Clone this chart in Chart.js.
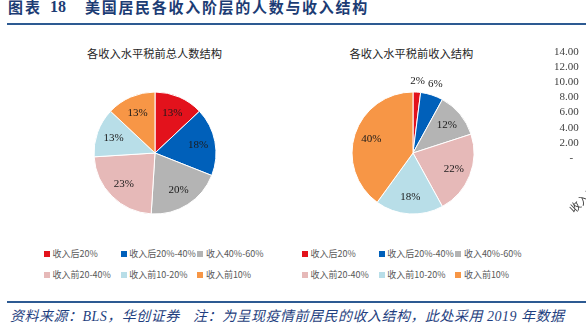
<!DOCTYPE html>
<html><head><meta charset="utf-8">
<script src="https://cdn.jsdelivr.net/npm/chart.js@4.4.1/dist/chart.umd.min.js"></script>
<style>
html,body{margin:0;padding:0;background:#fff;}
body{width:586px;height:326px;overflow:hidden;position:relative;font-family:"Noto Sans CJK SC",sans-serif;}
.abs{position:absolute;white-space:nowrap;}
.ttl{color:#1c3c74;font-weight:bold;font-size:15px;line-height:15px;top:-1px;}
.sub{font-size:11.25px;line-height:12px;color:#262626;transform:translateX(-50%);}
.rule{position:absolute;left:7px;right:0;height:2px;background:#2d5a92;}
.foot{font-family:"Liberation Serif","Noto Sans CJK SC",serif;font-style:italic;font-size:14px;line-height:14px;color:#1f3f80;top:310px;letter-spacing:0.5px;}
.legend{position:absolute;display:grid;grid-template-columns:76.7px 76.7px 76.7px;row-gap:11px;}
.li{display:flex;align-items:center;height:10px;font-size:9px;line-height:10px;color:#595959;white-space:nowrap;}
.sw{width:6px;height:6px;margin-right:2.5px;flex:none;}
canvas{position:absolute;}
</style></head><body>
<div class="abs ttl" style="left:8px;letter-spacing:2px;">图表</div>
<div class="abs ttl" style="left:50px;font-family:'Liberation Serif',serif;font-size:16px;">18</div>
<div class="abs ttl" style="left:85px;letter-spacing:1.7px;">美国居民各收入阶层的人数与收入结构</div>
<div class="rule" style="top:23px;"></div>

<div class="abs sub" style="left:154.5px;top:47px;">各收入水平税前总人数结构</div>
<div class="abs sub" style="left:411.5px;top:47px;">各收入水平税前收入结构</div>

<canvas id="pie1" width="160" height="160" style="left:75px;top:73px;"></canvas>
<canvas id="pie2" width="160" height="160" style="left:333px;top:73px;"></canvas>
<canvas id="axisChart" width="380" height="196" style="left:547px;top:42px;"></canvas>

<div class="legend" id="leg1" style="left:44px;top:249px;"></div>
<div class="legend" id="leg2" style="left:302px;top:249px;"></div>

<div class="rule" style="top:301px;"></div>
<div class="abs foot" style="left:10px;">资料来源：BLS，华创证券</div>
<div class="abs foot" style="left:193px;">注：为呈现疫情前居民的收入结构，此处采用 2019 年数据</div>

<script>
// ---- data ----
const categories = ['收入后20%', '收入后20%-40%', '收入40%-60%', '收入前20-40%', '收入前10-20%', '收入前10%'];
const populationShare = [13, 18, 20, 23, 13, 13];   // 各收入水平税前总人数结构 (%)
const incomeShare = [2, 6, 12, 22, 18, 40];          // 各收入水平税前收入结构 (%)
const rightAxisMin = 0;
const rightAxisMax = 14;
const rightAxisStep = 2;

// ---- styles ----
const sliceColors = ['#E3121C', '#0060BA', '#B4B4B4', '#E6B9B8', '#B8DEE8', '#F79646'];

const pctLabels = {
  id: 'pctLabels',
  afterDatasetsDraw(chart) {
    const ctx = chart.ctx;
    const meta = chart.getDatasetMeta(0);
    const vals = chart.data.datasets[0].data;
    ctx.save();
    ctx.font = '11px "Liberation Serif", serif';
    ctx.fillStyle = '#1a1a1a';
    ctx.textAlign = 'center';
    ctx.textBaseline = 'middle';
    meta.data.forEach((arc, i) => {
      const p = arc.getProps(['x', 'y', 'startAngle', 'endAngle', 'outerRadius'], true);
      const mid = (p.startAngle + p.endAngle) / 2;
      const r = p.outerRadius * (vals[i] < 8 ? 1.18 : 0.72);
      ctx.fillText(vals[i] + '%', p.x + Math.cos(mid) * r, p.y + Math.sin(mid) * r);
    });
    ctx.restore();
  }
};

function makePie(id, values) {
  return new Chart(document.getElementById(id), {
    type: 'pie',
    data: { labels: categories, datasets: [{ data: values, backgroundColor: sliceColors, borderColor: '#ffffff', borderWidth: 1 }] },
    options: {
      responsive: false, animation: false, devicePixelRatio: 1,
      layout: { padding: 18.5 },
      plugins: { legend: { display: false }, tooltip: { enabled: false } }
    },
    plugins: [pctLabels]
  });
}
makePie('pie1', populationShare);
makePie('pie2', incomeShare);

function buildLegend(id) {
  const el = document.getElementById(id);
  categories.forEach((c, i) => {
    const d = document.createElement('div');
    d.className = 'li';
    d.innerHTML = '<span class="sw" style="background:' + sliceColors[i] + '"></span><span></span>';
    d.lastChild.textContent = c;
    el.appendChild(d);
  });
}
buildLegend('leg1');
buildLegend('leg2');

// cropped neighbouring chart: only its value axis and first category label are visible
new Chart(document.getElementById('axisChart'), {
  type: 'bar',
  data: { labels: categories, datasets: [] },
  options: {
    responsive: false, animation: false, devicePixelRatio: 1,
    layout: { padding: { left: 4, top: 10, right: 0, bottom: 0 } },
    plugins: { legend: { display: false }, tooltip: { enabled: false } },
    scales: {
      y: {
        min: rightAxisMin, max: rightAxisMax,
        grid: { display: false, drawTicks: false }, border: { display: false },
        ticks: {
          stepSize: rightAxisStep, autoSkip: false, padding: 3, color: '#404040',
          font: { family: 'Liberation Serif', size: 11 },
          callback: v => v === 0 ? '-  ' : Number(v).toFixed(2)
        }
      },
      x: {
        grid: { display: false, drawTicks: false }, border: { display: false },
        ticks: { minRotation: 45, maxRotation: 45, autoSkip: false, padding: 9, color: '#404040',
          font: { family: 'Noto Sans CJK SC', size: 11 } },
        afterFit(s) { s.height = 80; }
      }
    }
  }
});
</script>
</body></html>
